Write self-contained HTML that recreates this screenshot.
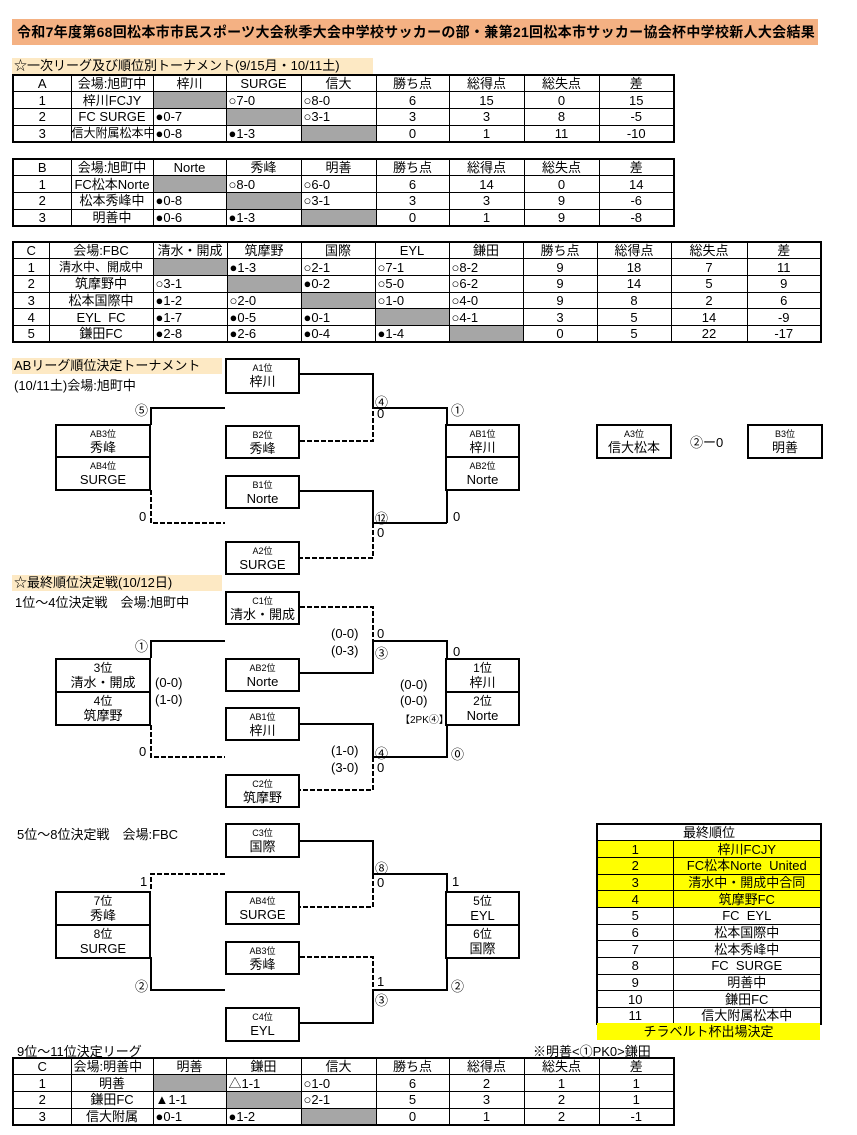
<!DOCTYPE html>
<html><head><meta charset="utf-8">
<style>
*{margin:0;padding:0;box-sizing:border-box}
body{width:857px;height:1135px;background:#fff;position:relative;overflow:hidden;font-family:"Liberation Sans","Noto Sans CJK JP",sans-serif;color:#000}
.a{position:absolute;white-space:nowrap}
table{position:absolute;border-collapse:collapse;table-layout:fixed;border:2px solid #000}
td{border:1.5px solid #000;font-size:13px;text-align:center;padding:0;height:16.7px;line-height:15px;overflow:hidden;white-space:nowrap}
td.l{text-align:left;padding-left:2px}
td.g{background:#a6a6a6}
td.sm{font-size:12px}
.box{position:absolute;border:2.5px solid #000;background:#fff;text-align:center}
.box .s{font-size:9px;line-height:11px;margin-top:3px}
.box .n{font-size:13px;line-height:15px}
.bx2 .s{font-size:12px;line-height:14px;margin-top:1px}
.t{font-size:13px}
</style></head><body>
<div class="a" style="left:12px;top:19px;width:806px;height:26px;background:#f4b183;font-size:14px;letter-spacing:0.3px;font-weight:bold;line-height:26px;padding-left:5px;overflow:hidden">令和7年度第68回松本市市民スポーツ大会秋季大会中学校サッカーの部・兼第21回松本市サッカー協会杯中学校新人大会結果</div>
<div class="a t" style="left:12px;top:58px;width:361px;height:16px;background:#fde9c4;line-height:16px;padding-left:2px">☆一次リーグ及び順位別トーナメント(9/15月・10/11土)</div>

<table style="left:12px;top:74px;width:661px">
<colgroup><col style="width:58px"><col style="width:82px"><col style="width:73px"><col style="width:75px"><col style="width:75px"><col style="width:73px"><col style="width:75px"><col style="width:75px"><col style="width:75px"></colgroup>
<tr><td>A</td><td>会場:旭町中</td><td>梓川</td><td>SURGE</td><td>信大</td><td>勝ち点</td><td>総得点</td><td>総失点</td><td>差</td></tr>
<tr><td>1</td><td>梓川FCJY</td><td class="g"></td><td class="l">○7-0</td><td class="l">○8-0</td><td>6</td><td>15</td><td>0</td><td>15</td></tr>
<tr><td>2</td><td>FC SURGE</td><td class="l">●0-7</td><td class="g"></td><td class="l">○3-1</td><td>3</td><td>3</td><td>8</td><td>-5</td></tr>
<tr><td>3</td><td class="sm">信大附属松本中</td><td class="l">●0-8</td><td class="l">●1-3</td><td class="g"></td><td>0</td><td>1</td><td>11</td><td>-10</td></tr>
</table>

<table style="left:12px;top:158px;width:661px">
<colgroup><col style="width:58px"><col style="width:82px"><col style="width:73px"><col style="width:75px"><col style="width:75px"><col style="width:73px"><col style="width:75px"><col style="width:75px"><col style="width:75px"></colgroup>
<tr><td>B</td><td>会場:旭町中</td><td>Norte</td><td>秀峰</td><td>明善</td><td>勝ち点</td><td>総得点</td><td>総失点</td><td>差</td></tr>
<tr><td>1</td><td>FC松本Norte</td><td class="g"></td><td class="l">○8-0</td><td class="l">○6-0</td><td>6</td><td>14</td><td>0</td><td>14</td></tr>
<tr><td>2</td><td>松本秀峰中</td><td class="l">●0-8</td><td class="g"></td><td class="l">○3-1</td><td>3</td><td>3</td><td>9</td><td>-6</td></tr>
<tr><td>3</td><td>明善中</td><td class="l">●0-6</td><td class="l">●1-3</td><td class="g"></td><td>0</td><td>1</td><td>9</td><td>-8</td></tr>
</table>

<table style="left:12px;top:241px;width:808px">
<colgroup><col style="width:36px"><col style="width:104px"><col style="width:74px"><col style="width:74px"><col style="width:74px"><col style="width:74px"><col style="width:74px"><col style="width:74px"><col style="width:74px"><col style="width:76px"><col style="width:74px"></colgroup>
<tr><td>C</td><td>会場:FBC</td><td>清水・開成</td><td>筑摩野</td><td>国際</td><td>EYL</td><td>鎌田</td><td>勝ち点</td><td>総得点</td><td>総失点</td><td>差</td></tr>
<tr><td>1</td><td class="sm">清水中、開成中</td><td class="g"></td><td class="l">●1-3</td><td class="l">○2-1</td><td class="l">○7-1</td><td class="l">○8-2</td><td>9</td><td>18</td><td>7</td><td>11</td></tr>
<tr><td>2</td><td>筑摩野中</td><td class="l">○3-1</td><td class="g"></td><td class="l">●0-2</td><td class="l">○5-0</td><td class="l">○6-2</td><td>9</td><td>14</td><td>5</td><td>9</td></tr>
<tr><td>3</td><td>松本国際中</td><td class="l">●1-2</td><td class="l">○2-0</td><td class="g"></td><td class="l">○1-0</td><td class="l">○4-0</td><td>9</td><td>8</td><td>2</td><td>6</td></tr>
<tr><td>4</td><td>EYL&nbsp; FC</td><td class="l">●1-7</td><td class="l">●0-5</td><td class="l">●0-1</td><td class="g"></td><td class="l">○4-1</td><td>3</td><td>5</td><td>14</td><td>-9</td></tr>
<tr><td>5</td><td>鎌田FC</td><td class="l">●2-8</td><td class="l">●2-6</td><td class="l">●0-4</td><td class="l">●1-4</td><td class="g"></td><td>0</td><td>5</td><td>22</td><td>-17</td></tr>
</table>

<svg class="a" style="left:0;top:0" width="857" height="1135">
<g stroke="#000" stroke-width="2" fill="none">
<path d="M300 374H373V408H447V425"/>
<path d="M300 491H373V523H447"/>
<path d="M151 425V408H225"/>
<path d="M447 490V523"/>
<path d="M373 641H447V658"/>
<path d="M373 641V673H300"/>
<path d="M300 724H373V757H447V725"/>
<path d="M151 658V641H225"/>
<path d="M300 841H373V874H447V891"/>
<path d="M373 990H447V957"/>
<path d="M300 1023H373V990"/>
<path d="M151 957V990H225"/>
</g>
<g stroke="#000" stroke-width="2" fill="none" stroke-dasharray="5,2">
<path d="M300 441H373V408"/>
<path d="M373 523V558H300"/>
<path d="M151 490V523H225"/>
<path d="M300 607H373V641"/>
<path d="M373 757V790H300"/>
<path d="M151 725V757H225"/>
<path d="M373 874V907H300"/>
<path d="M300 957H373V990"/>
<path d="M225 874H151V891"/>
</g>
</svg>

<div class="a t" style="left:12px;top:358px;width:210px;height:16px;background:#fde9c4;line-height:16px;padding-left:2px">ABリーグ順位決定トーナメント</div>
<div class="a t" style="left:14px;top:375px">(10/11土)会場:旭町中</div>

<div class="box" style="left:225px;top:358px;width:75px;height:36px"><div class="s">A1位</div><div class="n">梓川</div></div>
<div class="box" style="left:225px;top:425px;width:75px;height:34px"><div class="s">B2位</div><div class="n">秀峰</div></div>
<div class="box" style="left:225px;top:475px;width:75px;height:34px"><div class="s">B1位</div><div class="n">Norte</div></div>
<div class="box" style="left:225px;top:541px;width:75px;height:34px"><div class="s">A2位</div><div class="n">SURGE</div></div>
<div class="box" style="left:55px;top:424px;width:96px;height:34px"><div class="s">AB3位</div><div class="n">秀峰</div></div>
<div class="box" style="left:55px;top:456px;width:96px;height:35px"><div class="s">AB4位</div><div class="n">SURGE</div></div>
<div class="box" style="left:445px;top:424px;width:75px;height:34px"><div class="s">AB1位</div><div class="n">梓川</div></div>
<div class="box" style="left:445px;top:456px;width:75px;height:35px"><div class="s">AB2位</div><div class="n">Norte</div></div>
<div class="box" style="left:596px;top:424px;width:76px;height:35px"><div class="s">A3位</div><div class="n">信大松本</div></div>
<div class="box" style="left:747px;top:424px;width:76px;height:35px"><div class="s">B3位</div><div class="n">明善</div></div>
<div class="a t" style="left:690px;top:432px">②ー0</div>
<div class="a t" style="left:135px;top:400px">⑤</div>
<div class="a t" style="left:139px;top:509px">0</div>
<div class="a t" style="left:375px;top:392px">④</div>
<div class="a t" style="left:377px;top:406px">0</div>
<div class="a t" style="left:451px;top:400px">①</div>
<div class="a t" style="left:453px;top:509px">0</div>
<div class="a t" style="left:375px;top:508px">⑫</div>
<div class="a t" style="left:377px;top:525px">0</div>

<div class="a t" style="left:12px;top:575px;width:210px;height:16px;background:#fde9c4;line-height:16px;padding-left:2px">☆最終順位決定戦(10/12日)</div>
<div class="a t" style="left:15px;top:592px">1位～4位決定戦　会場:旭町中</div>

<div class="box" style="left:225px;top:591px;width:75px;height:34px"><div class="s">C1位</div><div class="n">清水・開成</div></div>
<div class="box" style="left:225px;top:658px;width:75px;height:34px"><div class="s">AB2位</div><div class="n">Norte</div></div>
<div class="box" style="left:225px;top:707px;width:75px;height:34px"><div class="s">AB1位</div><div class="n">梓川</div></div>
<div class="box" style="left:225px;top:774px;width:75px;height:34px"><div class="s">C2位</div><div class="n">筑摩野</div></div>
<div class="box bx2" style="left:55px;top:658px;width:96px;height:35px"><div class="s">3位</div><div class="n">清水・開成</div></div>
<div class="box bx2" style="left:55px;top:691px;width:96px;height:35px"><div class="s">4位</div><div class="n">筑摩野</div></div>
<div class="box bx2" style="left:445px;top:658px;width:75px;height:35px"><div class="s">1位</div><div class="n">梓川</div></div>
<div class="box bx2" style="left:445px;top:691px;width:75px;height:35px"><div class="s">2位</div><div class="n">Norte</div></div>
<div class="a t" style="left:135px;top:636px">①</div>
<div class="a t" style="left:139px;top:744px">0</div>
<div class="a t" style="left:155px;top:675px">(0-0)</div>
<div class="a t" style="left:155px;top:692px">(1-0)</div>
<div class="a t" style="left:331px;top:626px">(0-0)</div>
<div class="a t" style="left:377px;top:626px">0</div>
<div class="a t" style="left:331px;top:643px">(0-3)</div>
<div class="a t" style="left:375px;top:643px">③</div>
<div class="a t" style="left:400px;top:677px">(0-0)</div>
<div class="a t" style="left:400px;top:693px">(0-0)</div>
<div class="a" style="left:400px;top:711px;font-size:10px">【2PK④】</div>
<div class="a t" style="left:453px;top:644px">0</div>
<div class="a t" style="left:451px;top:744px">⓪</div>
<div class="a t" style="left:331px;top:743px">(1-0)</div>
<div class="a t" style="left:375px;top:743px">④</div>
<div class="a t" style="left:331px;top:760px">(3-0)</div>
<div class="a t" style="left:377px;top:760px">0</div>

<div class="a t" style="left:17px;top:824px">5位～8位決定戦　会場:FBC</div>
<div class="box" style="left:225px;top:823px;width:75px;height:35px"><div class="s">C3位</div><div class="n">国際</div></div>
<div class="box" style="left:225px;top:891px;width:75px;height:34px"><div class="s">AB4位</div><div class="n">SURGE</div></div>
<div class="box" style="left:225px;top:941px;width:75px;height:34px"><div class="s">AB3位</div><div class="n">秀峰</div></div>
<div class="box" style="left:225px;top:1007px;width:75px;height:35px"><div class="s">C4位</div><div class="n">EYL</div></div>
<div class="box bx2" style="left:55px;top:891px;width:96px;height:35px"><div class="s">7位</div><div class="n">秀峰</div></div>
<div class="box bx2" style="left:55px;top:924px;width:96px;height:35px"><div class="s">8位</div><div class="n">SURGE</div></div>
<div class="box bx2" style="left:445px;top:891px;width:75px;height:35px"><div class="s">5位</div><div class="n">EYL</div></div>
<div class="box bx2" style="left:445px;top:924px;width:75px;height:35px"><div class="s">6位</div><div class="n">国際</div></div>
<div class="a t" style="left:140px;top:874px">1</div>
<div class="a t" style="left:135px;top:976px">②</div>
<div class="a t" style="left:375px;top:858px">⑧</div>
<div class="a t" style="left:377px;top:875px">0</div>
<div class="a t" style="left:452px;top:874px">1</div>
<div class="a t" style="left:451px;top:976px">②</div>
<div class="a t" style="left:377px;top:974px">1</div>
<div class="a t" style="left:375px;top:990px">③</div>

<table style="left:596px;top:823px;width:224px">
<colgroup><col style="width:76px"><col style="width:148px"></colgroup>
<tr><td colspan="2">最終順位</td></tr>
<tr style="background:#ffff00"><td>1</td><td>梓川FCJY</td></tr>
<tr style="background:#ffff00"><td>2</td><td>FC松本Norte&nbsp; United</td></tr>
<tr style="background:#ffff00"><td>3</td><td>清水中・開成中合同</td></tr>
<tr style="background:#ffff00"><td>4</td><td>筑摩野FC</td></tr>
<tr><td>5</td><td>FC&nbsp; EYL</td></tr>
<tr><td>6</td><td>松本国際中</td></tr>
<tr><td>7</td><td>松本秀峰中</td></tr>
<tr><td>8</td><td>FC&nbsp; SURGE</td></tr>
<tr><td>9</td><td>明善中</td></tr>
<tr><td>10</td><td>鎌田FC</td></tr>
<tr><td>11</td><td>信大附属松本中</td></tr>
</table>
<div class="a t" style="left:597px;top:1023px;width:223px;height:17px;background:#ffff00;text-align:center;line-height:17px">チラベルト杯出場決定</div>

<div class="a t" style="left:17px;top:1041px">9位～11位決定リーグ</div>
<div class="a t" style="left:533px;top:1041px">※明善&lt;①PK0&gt;鎌田</div>
<table style="left:12px;top:1057px;width:661px">
<colgroup><col style="width:58px"><col style="width:82px"><col style="width:73px"><col style="width:75px"><col style="width:75px"><col style="width:73px"><col style="width:75px"><col style="width:75px"><col style="width:75px"></colgroup>
<tr><td>C</td><td class="l">会場:明善中</td><td>明善</td><td>鎌田</td><td>信大</td><td>勝ち点</td><td>総得点</td><td>総失点</td><td>差</td></tr>
<tr><td>1</td><td>明善</td><td class="g"></td><td class="l">△1-1</td><td class="l">○1-0</td><td>6</td><td>2</td><td>1</td><td>1</td></tr>
<tr><td>2</td><td>鎌田FC</td><td class="l">▲1-1</td><td class="g"></td><td class="l">○2-1</td><td>5</td><td>3</td><td>2</td><td>1</td></tr>
<tr><td>3</td><td>信大附属</td><td class="l">●0-1</td><td class="l">●1-2</td><td class="g"></td><td>0</td><td>1</td><td>2</td><td>-1</td></tr>
</table>
</body></html>
